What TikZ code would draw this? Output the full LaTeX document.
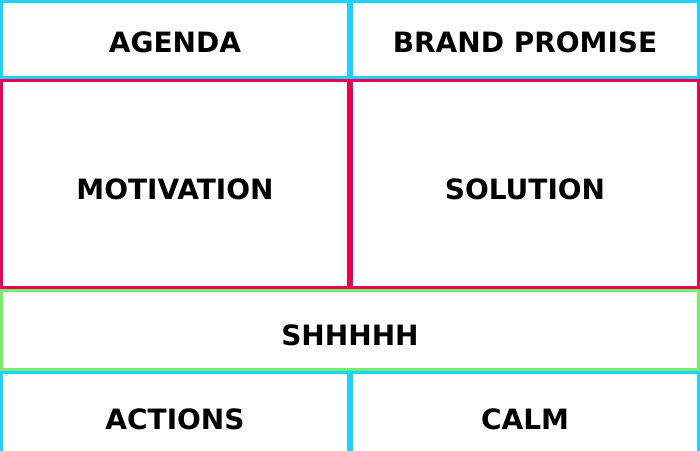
\documentclass[tikz,border=0pt]{standalone}
\usepackage{fontspec}
\setmainfont{DejaVu Sans}
\usepackage{tikz}
\usetikzlibrary{positioning}
\definecolor{boxcyan}{RGB}{30,210,255}
\definecolor{boxred}{RGB}{232,4,80}
\definecolor{boxgreen}{RGB}{122,236,112}
\tikzstyle{every node}=[font=\fontsize{28}{34}\selectfont\bfseries]
\tikzstyle{block}=[rectangle,
                   line width=3pt,
                   inner sep=0pt,
                   text height=31pt,
                   text depth=0pt,
                   minimum width=347pt]
\tikzstyle{outer}=[block,
                   draw=boxcyan,
                   minimum height=76pt]
\tikzstyle{core}=[block,
                  draw=boxred,
                  minimum height=207pt]
\tikzstyle{quiet}=[block,
                   draw=boxgreen,
                   minimum width=697pt,
                   minimum height=79pt]

\begin{document}
\begin{tikzpicture}[x=1pt,y=-1pt]
\useasboundingbox (0,0) rectangle (700,450);
\node (agenda)   [outer,text height=26pt] at (175,39.5) {AGENDA};
\node (promise)  [outer,text height=26pt,right=0pt of agenda] {BRAND PROMISE};
\node (motivation) [core,below=0pt of agenda] {MOTIVATION};
\node (solution) [core,right=0pt of motivation] {SOLUTION};
\node (shhhhh)   [quiet,below=0pt of motivation.south east] {SHHHHH};
\node (actions)  [outer,minimum height=88pt,text height=25pt,below left=0pt and 0pt of shhhhh.south] {ACTIONS};
\node (calm)     [outer,minimum height=88pt,text height=25pt,right=0pt of actions] {CALM};
\end{tikzpicture}
\end{document}
